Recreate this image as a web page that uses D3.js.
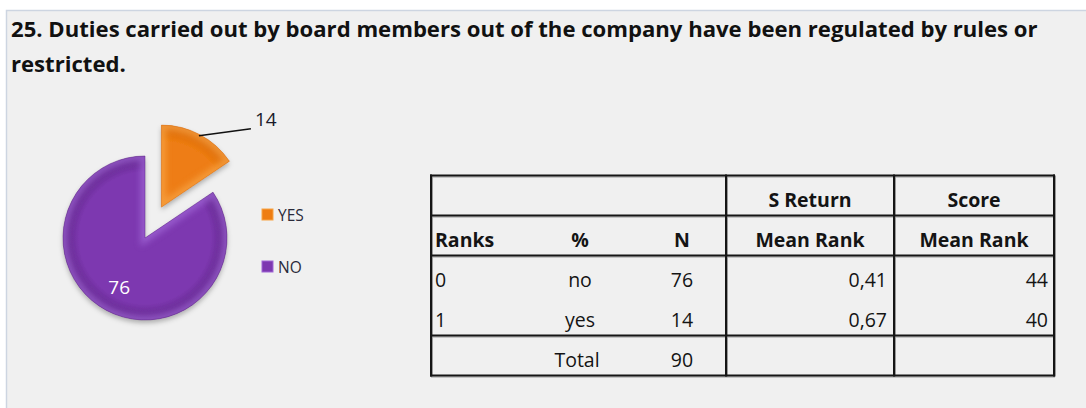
<!DOCTYPE html>
<html>
<head>
<meta charset="utf-8">
<script src="https://cdn.jsdelivr.net/npm/d3@7"></script>
<style>
  html, body { margin: 0; padding: 0; background: #ffffff; }
  svg { display: block; }
</style>
</head>
<body>
<svg id="chart" width="1086" height="408"></svg>
<script>
// ---------- data ----------
const titleLines = ["25. Duties carried out by board members out of the company have been regulated by rules or", "restricted."];
const categories = ["YES", "NO"];
const values = [14, 76];

const header1 = ["", "", "", "S Return", "Score"];
const header2 = ["Ranks", "%", "N", "Mean Rank", "Mean Rank"];
const rankCodes = ["0", "1"];
const rankLabels = ["no", "yes"];
const rankCounts = [76, 14];
const sReturnMeanRank = ["0,41", "0,67"];
const scoreMeanRank = [44, 40];
const totalLabel = "Total";
const totalCount = 90;

// ---------- styles ----------
const sliceColors = { YES: ["#f7a445", "#ee7d12", "#d9690a"], NO: ["#a066d6", "#7d38b0", "#5e2487"] };
const FONT = "'Open Sans', 'DejaVu Sans', sans-serif";

const svg = d3.select("#chart");
const defs = svg.append("defs");

// panel
svg.append("rect").attr("x", 6.5).attr("y", 10.5).attr("width", 1100).attr("height", 420)
  .attr("fill", "#f0f0f0").attr("stroke", "#cdd5e1").attr("stroke-width", 1.5);

// ---------- title ----------
const title = svg.append("g");
const t1 = title.append("text").attr("x", 11).attr("y", 37)
  .attr("font-family", FONT).attr("font-weight", 700).attr("font-size", 20)
  .attr("fill", "#111").text(titleLines[0]);
const w = t1.node().getComputedTextLength();
const fs = 20 * 1027 / w;
t1.attr("font-size", fs);
title.append("text").attr("x", 11).attr("y", 72)
  .attr("font-family", FONT).attr("font-weight", 700).attr("font-size", fs)
  .attr("fill", "#111").text(titleLines[1]);

// ---------- pie ----------
const cx = 145, cy = 238, R = 82, explode = 35;
const pie = d3.pie().sort(null).value(d => d.value).startAngle(0).endAngle(2 * Math.PI);
const slices = pie(categories.map((c, i) => ({ cat: c, value: values[i] })));
const arc = d3.arc().innerRadius(0).outerRadius(R);

// filters & gradients
const shadow = defs.append("filter").attr("id", "shadow").attr("x", "-20%").attr("y", "-20%").attr("width", "140%").attr("height", "150%");
shadow.append("feDropShadow").attr("dx", 0).attr("dy", 3).attr("stdDeviation", 2.5).attr("flood-color", "#000").attr("flood-opacity", 0.28);
const soft = defs.append("filter").attr("id", "soft");
soft.append("feGaussianBlur").attr("stdDeviation", 3);

categories.forEach(c => {
  const g = defs.append("radialGradient").attr("id", "grad-" + c)
    .attr("gradientUnits", "userSpaceOnUse").attr("cx", 0).attr("cy", 0).attr("r", R);
  g.append("stop").attr("offset", "0%").attr("stop-color", sliceColors[c][1]);
  g.append("stop").attr("offset", "80%").attr("stop-color", sliceColors[c][1]);
  g.append("stop").attr("offset", "100%").attr("stop-color", sliceColors[c][2]);
});

const pieG = svg.append("g").attr("transform", `translate(${cx},${cy})`);
const offsetOf = d => {
  if (d.data.cat !== "YES") return [0, 0];
  const a = (d.startAngle + d.endAngle) / 2;
  return [explode * Math.sin(a), -explode * Math.cos(a)];
};

slices.forEach((d, i) => {
  const [ox, oy] = offsetOf(d);
  const g = pieG.append("g").attr("transform", `translate(${ox},${oy})`);
  const path = arc(d);
  defs.append("clipPath").attr("id", "clip" + i).append("path").attr("d", path);
  g.append("path").attr("d", path).attr("fill", `url(#grad-${d.data.cat})`).attr("filter", "url(#shadow)");
  // bevel highlight along the edges
  g.append("g").attr("clip-path", `url(#clip${i})`)
    .append("path").attr("d", path).attr("fill", "none")
    .attr("stroke", sliceColors[d.data.cat][0]).attr("stroke-width", 9)
    .attr("opacity", 0.75).attr("filter", "url(#soft)");
  g.append("path").attr("d", path).attr("fill", "none")
    .attr("stroke", sliceColors[d.data.cat][2]).attr("stroke-width", 0.8).attr("opacity", 0.6);
});

// YES label with leader
const yes = slices[0];
{
  const [ox, oy] = offsetOf(yes);
  const a = (yes.startAngle + yes.endAngle) / 2;
  const sx = ox + R * Math.sin(a) - 1, sy = oy - R * Math.cos(a) + 1;
  const ex = sx + 52, ey = sy - 7;
  pieG.append("path").attr("d", `M${sx},${sy} L${ex},${ey}`)
    .attr("stroke", "#111").attr("stroke-width", 1.6).attr("fill", "none");
  pieG.append("text").attr("x", ex + 4).attr("y", ey - 3)
    .attr("font-family", FONT).attr("font-size", 19).attr("fill", "#1a1a2a").text(yes.data.value);
}
// NO label inside
const no = slices[1];
{
  const a = (no.startAngle + no.endAngle) / 2;
  const lx = 55 * Math.sin(a), ly = -55 * Math.cos(a);
  pieG.append("text").attr("x", lx).attr("y", ly + 7).attr("text-anchor", "middle")
    .attr("font-family", FONT).attr("font-size", 19).attr("fill", "#ffffff").text(no.data.value);
}

// legend
const legend = svg.append("g").attr("transform", "translate(262,208)");
categories.forEach((c, i) => {
  const g = legend.append("g").attr("transform", `translate(0,${i * 52})`);
  g.append("rect").attr("x", 0).attr("y", 1).attr("width", 11).attr("height", 11)
    .attr("fill", sliceColors[c][1]).attr("stroke", sliceColors[c][0]).attr("stroke-width", 1);
  g.append("text").attr("x", 16).attr("y", 13)
    .attr("font-family", FONT).attr("font-size", 15.5).attr("fill", "#2a2a3a").text(c);
});

// ---------- table ----------
const rowKeys = ["h1", "h2", "r0", "r1", "tot"];
const y = d3.scaleBand().domain(rowKeys).range([175.5, 375.5]);
const colEdges = [431, 726, 894, 1054];
const colAnchor = { rank: 435, pct: 580, n: 682, sRet: 887, score: 1048, sRetC: 810, scoreC: 974 };
const table = svg.append("g");

// shadow lines (light gray, slightly offset)
const hLines = ["h1", "h2", "r0", "tot"].map(k => y(k)).concat([y.range()[1]]);
hLines.forEach(yy => {
  table.append("line").attr("x1", colEdges[0]).attr("x2", colEdges[3] + 1).attr("y1", yy + 1.5).attr("y2", yy + 1.5)
    .attr("stroke", "#9a9a9a").attr("stroke-width", 1);
});
colEdges.forEach(xx => {
  table.append("line").attr("x1", xx + 1.5).attr("x2", xx + 1.5).attr("y1", y.range()[0]).attr("y2", y.range()[1] + 1)
    .attr("stroke", "#9a9a9a").attr("stroke-width", 1);
});
hLines.forEach(yy => {
  table.append("line").attr("x1", colEdges[0] - 1).attr("x2", colEdges[3] + 1).attr("y1", yy).attr("y2", yy)
    .attr("stroke", "#151515").attr("stroke-width", 2);
});
colEdges.forEach(xx => {
  table.append("line").attr("x1", xx).attr("x2", xx).attr("y1", y.range()[0] - 1).attr("y2", y.range()[1] + 1)
    .attr("stroke", "#151515").attr("stroke-width", 2);
});

const cell = (x, key, txt, anchor, bold) => table.append("text")
  .attr("x", x).attr("y", y(key) + 31).attr("text-anchor", anchor)
  .attr("font-family", FONT).attr("font-size", bold ? 19.5 : 19.5).attr("font-weight", bold ? 700 : 400)
  .attr("fill", "#141414").text(txt);

cell(colAnchor.sRetC, "h1", header1[3], "middle", true);
cell(colAnchor.scoreC, "h1", header1[4], "middle", true);
cell(colAnchor.rank, "h2", header2[0], "start", true);
cell(colAnchor.pct, "h2", header2[1], "middle", true);
cell(colAnchor.n, "h2", header2[2], "middle", true);
cell(colAnchor.sRetC, "h2", header2[3], "middle", true);
cell(colAnchor.scoreC, "h2", header2[4], "middle", true);
rankCodes.forEach((r, i) => {
  const key = "r" + i;
  cell(colAnchor.rank, key, r, "start", false);
  cell(colAnchor.pct, key, rankLabels[i], "middle", false);
  cell(colAnchor.n, key, rankCounts[i], "middle", false);
  cell(colAnchor.sRet, key, sReturnMeanRank[i], "end", false);
  cell(colAnchor.score, key, scoreMeanRank[i], "end", false);
});
cell(577, "tot", totalLabel, "middle", false);
cell(colAnchor.n, "tot", totalCount, "middle", false);
</script>
</body>
</html>
